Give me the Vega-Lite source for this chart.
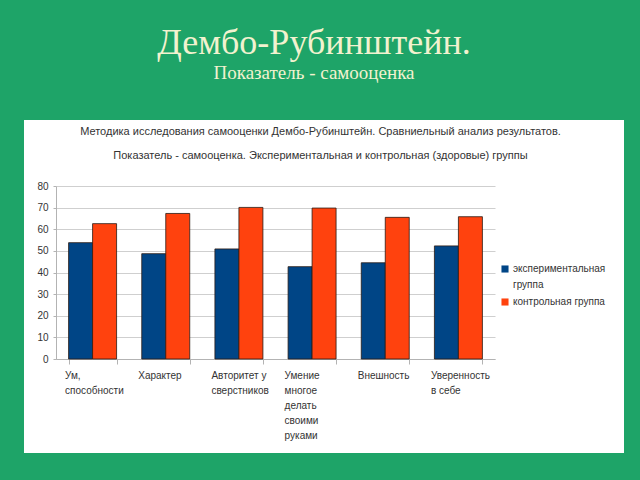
{
  "$schema": "https://vega.github.io/schema/vega-lite/v6.json",
  "width": 600,
  "height": 333,
  "autosize": {"type": "none"},
  "padding": {"left": 24, "top": 120, "right": 16, "bottom": 27},
  "background": "#1ea468",
  "title": {
    "text": "Дембо-Рубинштейн.",
    "subtitle": "Показатель - самооценка",
    "anchor": "middle",
    "frame": "group",
    "offset": 36,
    "dx": -10,
    "font": "Liberation Serif",
    "fontSize": 36,
    "fontWeight": "normal",
    "color": "#f2f2cf",
    "subtitleFont": "Liberation Serif",
    "subtitleFontSize": 19,
    "subtitleColor": "#f2f2cf",
    "subtitlePadding": 2
  },
  "data": {
    "values": [
      {"cat": "Ум, способности", "group": "экспериментальная группа", "value": 53.8},
      {"cat": "Ум, способности", "group": "контрольная группа", "value": 62.6},
      {"cat": "Характер", "group": "экспериментальная группа", "value": 48.7},
      {"cat": "Характер", "group": "контрольная группа", "value": 67.3},
      {"cat": "Авторитет у сверстников", "group": "экспериментальная группа", "value": 50.9},
      {"cat": "Авторитет у сверстников", "group": "контрольная группа", "value": 70.1},
      {"cat": "Умение многое делать своими руками", "group": "экспериментальная группа", "value": 42.7},
      {"cat": "Умение многое делать своими руками", "group": "контрольная группа", "value": 69.8},
      {"cat": "Внешность", "group": "экспериментальная группа", "value": 44.5},
      {"cat": "Внешность", "group": "контрольная группа", "value": 65.5},
      {"cat": "Уверенность в себе", "group": "экспериментальная группа", "value": 52.3},
      {"cat": "Уверенность в себе", "group": "контрольная группа", "value": 65.8}
    ]
  },
  "mark": {"type": "bar", "stroke": "#2a1a14", "strokeWidth": 0.8},
  "encoding": {
    "x": {
      "field": "cat",
      "type": "nominal",
      "sort": null,
      "scale": {"range": [32, 471], "paddingInner": 0.344, "paddingOuter": 0.172},
      "axis": {
        "title": null,
        "labelAngle": 0,
        "labelAlign": "left",
        "labelBaseline": "top",
        "labelOffset": -28,
        "labelPadding": 6,
        "labelLineHeight": 15,
        "labelFontSize": 10,
        "labelColor": "#333333",
        "labelLimit": 200,
        "labelExpr": "datum.value == 'Ум, способности' ? ['Ум,', 'способности'] : datum.value == 'Авторитет у сверстников' ? ['Авторитет у', 'сверстников'] : datum.value == 'Умение многое делать своими руками' ? ['Умение', 'многое', 'делать', 'своими', 'руками'] : datum.value == 'Уверенность в себе' ? ['Уверенность', 'в себе'] : datum.value",
        "offset": -94,
        "tickBand": "extent",
        "tickSize": 5,
        "tickColor": "#b3b3b3",
        "domainColor": "#b3b3b3",
        "grid": false
      }
    },
    "xOffset": {"field": "group", "type": "nominal", "sort": null, "scale": {"paddingInner": 0, "paddingOuter": 0}},
    "y": {
      "field": "value",
      "type": "quantitative",
      "scale": {"domain": [0, 80], "nice": false, "range": [239, 66]},
      "axis": {
        "values": [0, 10, 20, 30, 40, 50, 60, 70, 80],
        "offset": -32,
        "tickSize": 3,
        "tickColor": "#b3b3b3",
        "domainColor": "#b3b3b3",
        "gridColor": "#cfcfcf",
        "labelPadding": 5,
        "labelFontSize": 10,
        "labelColor": "#333333",
        "title": ["Методика исследования самооценки Дембо-Рубинштейн. Сравниельный анализ результатов.", "Показатель -  самооценка. Экспериментальная и контрольная (здоровые) группы"],
        "titleAngle": 0,
        "titleX": 264,
        "titleY": 5,
        "titleAlign": "center",
        "titleBaseline": "top",
        "titleLineHeight": 24,
        "titleFontSize": 11,
        "titleFontWeight": "normal",
        "titleColor": "#333333"
      }
    },
    "color": {
      "field": "group",
      "type": "nominal",
      "sort": null,
      "scale": {"domain": ["экспериментальная группа", "контрольная группа"], "range": ["#004586", "#ff420e"]},
      "legend": {
        "title": null,
        "orient": "none",
        "legendX": 476,
        "legendY": 144,
        "symbolType": "square",
        "symbolSize": 50,
        "symbolStrokeWidth": 0,
        "labelFontSize": 10,
        "labelColor": "#333333",
        "labelOffset": 3,
        "labelLimit": 200,
        "rowPadding": 7,
        "labelExpr": "datum.value == 'экспериментальная группа' ? ['экспериментальная', 'группа'] : datum.value"
      }
    }
  },
  "config": {
    "font": "Liberation Sans",
    "view": {"fill": "white", "stroke": null},
    "style": {"guide-label": {"lineHeight": 16}}
  }
}
